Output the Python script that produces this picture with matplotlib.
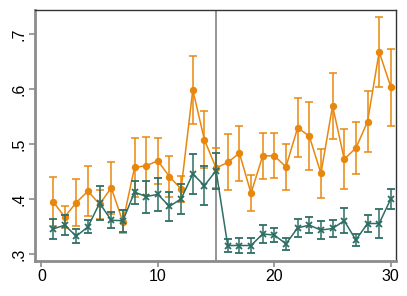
import matplotlib
matplotlib.use("Agg")
import matplotlib.pyplot as plt
import numpy as np

plt.rcParams["font.family"] = ["Liberation Sans", "DejaVu Sans"]

periods = np.arange(1, 31)

# orange series: mean and half-width of the interval
orange_mean = [0.396, 0.368, 0.394, 0.415, 0.391, 0.421, 0.359, 0.458, 0.461, 0.470,
               0.441, 0.419, 0.599, 0.508, 0.457, 0.467, 0.484, 0.411, 0.479, 0.479,
               0.459, 0.530, 0.515, 0.447, 0.570, 0.473, 0.493, 0.541, 0.668, 0.604]
orange_err = [0.045, 0.020, 0.043, 0.045, 0.026, 0.047, 0.021, 0.053, 0.053, 0.042,
              0.037, 0.024, 0.062, 0.052, 0.037, 0.051, 0.050, 0.033, 0.042, 0.041,
              0.042, 0.054, 0.062, 0.044, 0.060, 0.054, 0.047, 0.055, 0.064, 0.070]

# teal series
teal_mean = [0.346, 0.353, 0.333, 0.350, 0.393, 0.362, 0.361, 0.413, 0.405, 0.409,
             0.387, 0.401, 0.446, 0.425, 0.452, 0.316, 0.316, 0.316, 0.337, 0.335,
             0.319, 0.348, 0.353, 0.344, 0.347, 0.361, 0.326, 0.356, 0.356, 0.401]
teal_err = [0.018, 0.018, 0.013, 0.012, 0.031, 0.015, 0.020, 0.021, 0.029, 0.030,
            0.027, 0.027, 0.036, 0.035, 0.033, 0.011, 0.013, 0.014, 0.017, 0.013,
            0.011, 0.016, 0.015, 0.016, 0.016, 0.023, 0.011, 0.015, 0.026, 0.018]

cutoff = 15

ORANGE = "#E8870E"
TEAL = "#2E6F65"
GRAY = "#8C8C8C"

fig = plt.figure(figsize=(4.07, 2.96), dpi=100)
ax = fig.add_axes([0.0867, 0.1193, 0.887, 0.8459])

ax.axvline(cutoff, color=GRAY, lw=1.3, zorder=1)

ax.errorbar(periods, teal_mean, yerr=teal_err, color=TEAL, ecolor=TEAL,
            marker="x", markersize=4, mew=1.3, lw=1.1, elinewidth=1.1,
            capsize=2.8, capthick=1.1, zorder=3)
ax.errorbar(periods, orange_mean, yerr=orange_err, color=ORANGE, ecolor=ORANGE,
            marker="o", markersize=4.3, lw=1.1, elinewidth=1.1,
            capsize=2.8, capthick=1.1, zorder=2)

ax.set_xlim(-0.52, 30.47)
ax.set_ylim(0.2884, 0.7436)
ax.set_xticks([0, 10, 20, 30])
ax.set_yticks([0.3, 0.4, 0.5, 0.6, 0.7])
ax.set_yticklabels([".3", ".4", ".5", ".6", ".7"], rotation=90, va="center")

for side in ("left", "bottom"):
    ax.spines[side].set_color(GRAY)
    ax.spines[side].set_linewidth(2.0)
for side in ("top", "right"):
    ax.spines[side].set_color("#333333")
    ax.spines[side].set_linewidth(1.0)

ax.tick_params(direction="out", length=4, width=1.2, color=GRAY,
               labelsize=11.5, pad=2)

fig.savefig("out.png", dpi=100)
